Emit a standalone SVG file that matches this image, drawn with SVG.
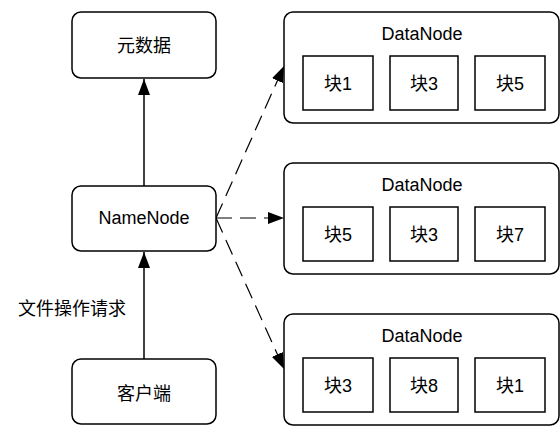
<svg xmlns="http://www.w3.org/2000/svg" width="560" height="426" viewBox="0 0 560 426">
<defs>
<marker id="ahb" viewBox="0 0 16 12" refX="16" refY="6" markerWidth="16" markerHeight="12" markerUnits="userSpaceOnUse" orient="auto"><path d="M0,0 L16,6 L0,12 z" fill="#000"/></marker>
</defs>
<style>
.box{fill:#fff;stroke:#000;stroke-width:1.5}
.blk{fill:#fff;stroke:#000;stroke-width:1.5}
text{font-family:"Liberation Sans","Noto Sans CJK SC",sans-serif;font-size:18px;fill:#000;text-anchor:middle}
.solid{stroke:#000;stroke-width:1.5;fill:none;marker-end:url(#ahb)}
.dash{stroke:#000;stroke-width:1.2;fill:none;stroke-dasharray:16 8;marker-end:url(#ahb)}
</style>
<g id="connectors">
<line class="solid" x1="144" y1="186" x2="144" y2="79"/>
<line class="solid" x1="144" y1="359" x2="144" y2="252"/>
<line class="dash" x1="216" y1="218" x2="284" y2="66"/>
<line class="dash" x1="216" y1="218" x2="284" y2="218"/>
<line class="dash" x1="216" y1="218" x2="284" y2="369"/>
<text x="72" y="315">文件操作请求</text>
</g>
<g id="metadata"><rect class="box" x="72" y="12" width="144" height="66" rx="9"/><text x="144" y="52">元数据</text></g>
<g id="namenode"><rect class="box" x="72" y="186" width="144" height="65" rx="9"/><text x="144" y="224">NameNode</text></g>
<g id="client"><rect class="box" x="72" y="359" width="144" height="65" rx="9"/><text x="144" y="400">客户端</text></g>
<g id="datanode1"><rect class="box" x="284" y="12" width="275" height="111" rx="9"/><text x="422" y="40">DataNode</text>
<rect class="blk" x="303" y="56" width="70" height="54"/><text x="338" y="90">块1</text>
<rect class="blk" x="390" y="56" width="68" height="54"/><text x="424" y="90">块3</text>
<rect class="blk" x="475" y="56" width="70" height="54"/><text x="510" y="90">块5</text></g>
<g id="datanode2"><rect class="box" x="284" y="163" width="275" height="111" rx="9"/><text x="422" y="191">DataNode</text>
<rect class="blk" x="303" y="207" width="70" height="54"/><text x="338" y="241">块5</text>
<rect class="blk" x="390" y="207" width="68" height="54"/><text x="424" y="241">块3</text>
<rect class="blk" x="475" y="207" width="70" height="54"/><text x="510" y="241">块7</text></g>
<g id="datanode3"><rect class="box" x="284" y="314" width="275" height="111" rx="9"/><text x="422" y="342">DataNode</text>
<rect class="blk" x="303" y="358" width="70" height="54"/><text x="338" y="392">块3</text>
<rect class="blk" x="390" y="358" width="68" height="54"/><text x="424" y="392">块8</text>
<rect class="blk" x="475" y="358" width="70" height="54"/><text x="510" y="392">块1</text></g>
</svg>
